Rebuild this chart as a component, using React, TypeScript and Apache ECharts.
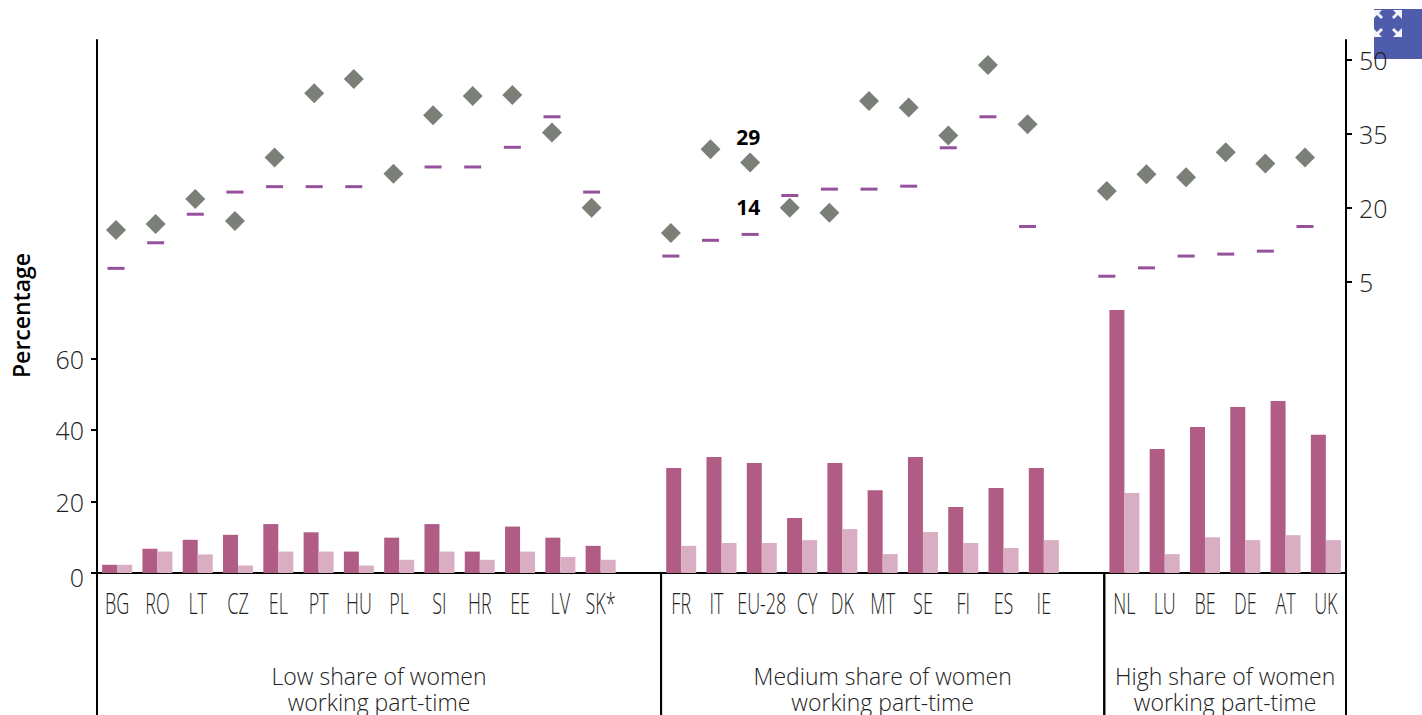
import React, { useEffect, useRef } from "react";
import * as echarts from "echarts";

const categories = ["BG","RO","LT","CZ","EL","PT","HU","PL","SI","HR","EE","LV","SK*","","FR","IT","EU-28","CY","DK","MT","SE","FI","ES","IE","","NL","LU","BE","DE","AT","UK"];
const darkBars = [2.3,6.8,9.3,10.7,13.7,11.4,6,9.9,13.7,6,13,9.9,7.6,null,29.4,32.5,30.8,15.4,30.8,23.2,32.5,18.5,23.8,29.4,null,73.7,34.7,40.9,46.5,48.2,38.7];
const lightBars = [2.3,6,5.2,2.1,6,6,2.1,3.7,6,3.7,6,4.5,3.7,null,7.6,8.4,8.4,9.2,12.3,5.3,11.5,8.4,7,9.2,null,22.4,5.3,10,9.2,10.6,9.2];
const diamonds = [15.5,16.7,21.8,17.3,30.2,43.3,46.2,26.9,38.8,42.7,42.9,35.3,20,null,14.9,31.9,29.2,20,19,41.7,40.4,34.7,49,37,null,23.4,26.8,26.2,31.3,29,30.2];
const dashes = [7.7,12.9,18.7,23.2,24.3,24.3,24.3,null,28.3,28.3,32.3,38.5,23.2,null,10.2,13.4,14.6,22.5,23.8,23.8,24.4,32.2,38.5,16.2,null,6.1,7.8,10.2,10.6,11.2,16.2];
const leftTicks = [0,20,40,60];
const rightTicks = [5,20,35,50];
const groups = [
  { start: 0, end: 13, label: "Low share of women\nworking part-time" },
  { start: 14, end: 24, label: "Medium share of women\nworking part-time" },
  { start: 25, end: 30, label: "High share of women\nworking part-time" },
];
const highlightIndex = 16;
const highlightDiamond = "29";
const highlightDash = "14";
const labelNudge: Record<string, number> = { IT: -5, CY: 5 };

const FONT = '"Open Sans"';
const TEXT = "#222";

const highlight = (values: (number | null)[], text: string, distance: number) =>
  values.map((v, i) =>
    i === highlightIndex
      ? { value: v, label: { show: true, position: "top", distance, offset: [-2, 0], formatter: text, fontFamily: FONT, fontSize: 21, fontWeight: 700, color: "#000", opacity: 1 } }
      : v
  );

const option: any = {
  animation: false,
  backgroundColor: "#fff",
  grid: [
    { left: 97, right: 76, top: 40, bottom: 142 },
    { left: 96.2, width: 1228.6, top: 40, bottom: 142 },
  ],
  xAxis: [
    { type: "category", gridIndex: 0, data: categories, axisLine: { lineStyle: { color: "#000", width: 2 } }, axisTick: { show: false }, axisLabel: { show: false } },
    { type: "category", gridIndex: 1, data: categories, show: false },
  ],
  yAxis: [
    {
      type: "value", gridIndex: 0, position: "left", min: 0, max: 149.3,
      name: "Percentage", nameLocation: "middle", nameGap: 65, nameRotate: 90,
      nameTextStyle: { fontFamily: FONT, fontSize: 23, fontWeight: 600, color: "#000", padding: [0, 18, 0, 0] },
      splitLine: { show: false },
      axisLine: { show: true, lineStyle: { color: "#000", width: 2 } },
      axisTick: { show: true, length: 6, lineStyle: { color: "#000", width: 2 }, customValues: leftTicks },
      axisLabel: {
        customValues: leftTicks, margin: 13, fontFamily: FONT, fontSize: 25, fontWeight: 300, color: TEXT, showMinLabel: true,
        formatter: (v: number) => (v === 0 ? "{z|0}" : String(v)),
        rich: { z: { fontFamily: FONT, fontSize: 25, fontWeight: 300, color: TEXT, padding: [8, 0, 0, 0] } },
      },
    },
    {
      type: "value", gridIndex: 0, position: "right", min: -54.2, max: 54.1,
      splitLine: { show: false },
      axisLine: { show: true, lineStyle: { color: "#000", width: 2 } },
      axisTick: { show: true, length: 6, lineStyle: { color: "#000", width: 2 }, customValues: rightTicks },
      axisLabel: { customValues: rightTicks, margin: 13, fontFamily: FONT, fontSize: 25, fontWeight: 300, color: TEXT },
    },
    { type: "value", gridIndex: 1, min: -54.2, max: 54.1, show: false, splitLine: { show: false } },
  ],
  series: [
    { type: "bar", name: "Dark", xAxisIndex: 0, yAxisIndex: 0, data: darkBars, barWidth: 15, barGap: "0%", itemStyle: { color: "#b05c85" } },
    { type: "bar", name: "Light", xAxisIndex: 0, yAxisIndex: 0, data: lightBars, barWidth: 15, barGap: "0%", itemStyle: { color: "#d9adc2" } },
    { type: "scatter", name: "Diamond", xAxisIndex: 1, yAxisIndex: 2, data: highlight(diamonds, highlightDiamond, 5), symbol: "diamond", symbolSize: 20, itemStyle: { color: "#7a7f78", opacity: 1 } },
    { type: "scatter", name: "Dash", xAxisIndex: 1, yAxisIndex: 2, data: highlight(dashes, highlightDash, 15), symbol: "rect", symbolSize: [17, 3], itemStyle: { color: "#95519b", opacity: 1 } },
    {
      type: "custom", name: "Country labels", xAxisIndex: 0, yAxisIndex: 0, silent: true, clip: false,
      data: categories.map((_, i) => [i, 0]),
      renderItem: (params: any, api: any) => {
        const name = categories[params.dataIndex];
        if (!name) return null;
        const p = api.coord([api.value(0), 0]);
        return {
          type: "text", x: p[0] + (labelNudge[name] || 0), y: p[1] + 30, scaleX: 0.62, scaleY: 1,
          style: { text: name, fill: TEXT, font: `300 29px ${FONT}`, textAlign: "center", textVerticalAlign: "middle" },
        };
      },
    },
    {
      type: "custom", name: "Groups", xAxisIndex: 0, yAxisIndex: 0, silent: true, clip: false,
      data: groups.map((g) => [g.start, 0]),
      renderItem: (params: any, api: any) => {
        const g = groups[params.dataIndex];
        const band = api.size([1, 0])[0];
        const a = api.coord([g.start, 0]);
        const b = api.coord([g.end, 0]);
        const x1 = a[0] - band / 2;
        const x2 = b[0] + band / 2;
        const line = (x: number) => ({ type: "line", shape: { x1: x, y1: a[1], x2: x, y2: api.getHeight() }, style: { stroke: "#000", lineWidth: 2 } });
        return {
          type: "group",
          children: [
            line(x1),
            line(x2),
            { type: "text", x: (x1 + x2) / 2, y: a[1] + 116, style: { text: g.label, fill: TEXT, font: `300 23px ${FONT}`, lineHeight: 26, textAlign: "center", textVerticalAlign: "middle" } },
          ],
        };
      },
    },
  ],
  graphic: [
    { type: "rect", shape: { x: 1374, y: 9, width: 48, height: 50 }, style: { fill: "#4f5bab" }, z: -1 },
    { type: "polygon", shape: { points: [[1374,10],[1382,10],[1379,13],[1383,17],[1381,19],[1377,15],[1374,18]] }, style: { fill: "#f4f5fb" }, z: -1 },
    { type: "polygon", shape: { points: [[1402,10],[1393,10],[1396,13],[1392,17],[1394,19],[1398,15],[1402,19]] }, style: { fill: "#f4f5fb" }, z: -1 },
    { type: "polygon", shape: { points: [[1374,37],[1382,37],[1379,34],[1383,30],[1381,28],[1377,32],[1374,29]] }, style: { fill: "#f4f5fb" }, z: -1 },
    { type: "polygon", shape: { points: [[1402,37],[1393,37],[1396,34],[1392,30],[1394,28],[1398,32],[1402,28]] }, style: { fill: "#f4f5fb" }, z: -1 },
  ],
};

export default function App() {
  const ref = useRef<HTMLDivElement>(null);
  useEffect(() => {
    const chart = echarts.init(ref.current!, undefined, { renderer: "svg" });
    chart.setOption(option);
    return () => chart.dispose();
  }, []);
  return <div ref={ref} style={{ position: "absolute", left: 0, top: 0, width: 1422, height: 715 }} />;
}
